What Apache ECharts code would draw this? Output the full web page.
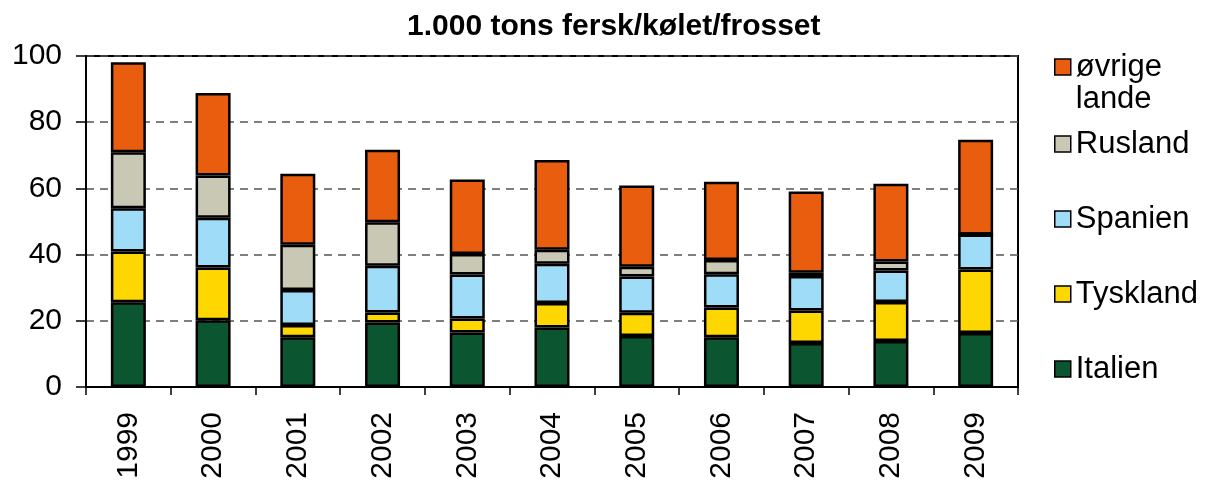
<!DOCTYPE html>
<html>
<head>
<meta charset="utf-8">
<script src="https://cdn.jsdelivr.net/npm/echarts@6/dist/echarts.min.js"></script>
<style>
  html, body { margin: 0; padding: 0; background: #fff; }
  #chart { width: 1212px; height: 484px; }
</style>
</head>
<body>
<div id="chart"></div>
<script>
// data, 1.000 tons
const years = ['1999', '2000', '2001', '2002', '2003', '2004', '2005', '2006', '2007', '2008', '2009'];
const italien = [25.6, 20.2, 15.0, 19.5, 16.5, 18.0, 15.4, 15.0, 13.3, 13.9, 16.3];
const tyskland = [15.3, 15.9, 3.7, 3.0, 4.2, 7.4, 7.0, 9.0, 9.8, 11.8, 19.2];
const spanien = [13.1, 15.0, 10.6, 14.1, 13.3, 11.8, 11.0, 10.1, 10.4, 9.5, 10.6];
const rusland = [16.9, 12.8, 13.7, 13.2, 6.2, 4.3, 2.9, 4.3, 1.0, 2.7, 0];
const ovrige = [27.2, 24.9, 21.4, 21.9, 22.5, 27.1, 24.6, 23.6, 24.6, 23.5, 28.6];

const font = 'Liberation Sans, Arial, sans-serif';

var chart = echarts.init(document.getElementById('chart'));

function bar(name, data, color) {
  return {
    name: name,
    type: 'bar',
    stack: 'total',
    barWidth: 35,
    data: data,
    itemStyle: { color: color, borderColor: '#000', borderWidth: 2.5 },
    emphasis: { disabled: true }
  };
}

chart.setOption({
  animation: false,
  textStyle: { fontFamily: font },
  title: {
    text: '1.000 tons fersk/kølet/frosset',
    left: 402,
    top: 7,
    textStyle: { fontFamily: font, fontSize: 30, fontWeight: 'bold', color: '#000' }
  },
  grid: {
    left: 86, right: 194, top: 56, bottom: 97,
    show: true, borderColor: '#000', borderWidth: 2, backgroundColor: 'transparent'
  },
  legend: [
    {
      orient: 'vertical',
      left: 1049, top: 14,
      icon: 'rect',
      itemWidth: 16, itemHeight: 16,
      data: ['øvrige lande'],
      // blank first line so the square sits next to "øvrige"
      formatter: function () { return '{e|}\n{a|øvrige}\n{a|lande}'; },
      itemStyle: { borderColor: '#000', borderWidth: 1.5 },
      textStyle: {
        fontFamily: font, fontSize: 31, color: '#000',
        rich: {
          e: { height: 32, lineHeight: 32 },
          a: { fontFamily: font, fontSize: 31, color: '#000', lineHeight: 32 }
        }
      }
    },
    {
      orient: 'vertical',
      left: 1049, top: 123,
      icon: 'rect',
      itemWidth: 16, itemHeight: 16,
      itemGap: 43,
      data: ['Rusland', 'Spanien', 'Tyskland', 'Italien'],
      itemStyle: { borderColor: '#000', borderWidth: 1.5 },
      textStyle: { fontFamily: font, fontSize: 31, color: '#000', lineHeight: 32 }
    }
  ],
  xAxis: {
    type: 'category',
    data: years,
    axisLine: { lineStyle: { color: '#000', width: 2 } },
    axisTick: { show: true, length: 8, lineStyle: { color: '#000', width: 1.5 } },
    axisLabel: { rotate: 90, margin: 25, fontSize: 30, color: '#000', fontFamily: font }
  },
  yAxis: {
    type: 'value',
    min: 0, max: 100, interval: 20,
    axisLine: { show: true, lineStyle: { color: '#000', width: 2 } },
    axisTick: { show: true, length: 10, lineStyle: { color: '#000', width: 1.5 } },
    axisLabel: { margin: 24, fontSize: 30, color: '#000', fontFamily: font },
    splitLine: { show: true, lineStyle: { color: '#555', width: 1.5, type: [8, 6] } }
  },
  series: [
    bar('Italien', italien, '#0B5530'),
    bar('Tyskland', tyskland, '#FFD700'),
    bar('Spanien', spanien, '#9EDCF7'),
    bar('Rusland', rusland, '#C8C8B4'),
    bar('øvrige lande', ovrige, '#E95D0F')
  ]
});
</script>
</body>
</html>
